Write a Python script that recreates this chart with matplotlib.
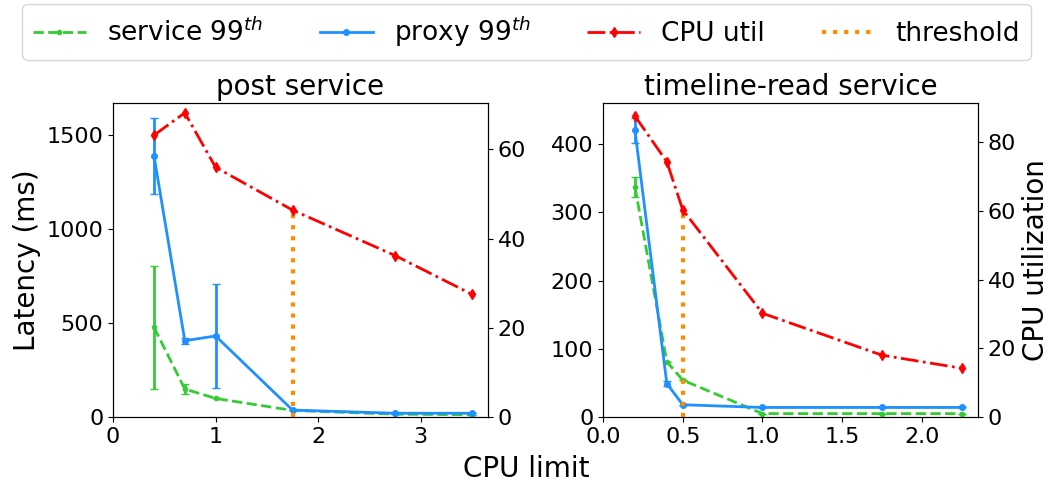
import matplotlib
matplotlib.use('Agg')
import matplotlib.pyplot as plt
from matplotlib.ticker import MultipleLocator

# -----------------------------
# Data
# -----------------------------
post_x = [0.4, 0.7, 1.0, 1.75, 2.75, 3.5]
post_service = [477, 149, 99, 35, 15, 12]
post_service_err = [328, 28, 0, 0, 0, 0]
post_proxy = [1388, 406, 431, 37, 20, 20]
post_proxy_err = [202, 15, 277, 0, 0, 0]
post_cpu = [63.2, 68.2, 56.0, 46.4, 36.2, 27.5]
post_threshold = 1.75

tl_x = [0.2, 0.4, 0.5, 1.0, 1.75, 2.25]
tl_service = [337, 81, 54, 5, 5, 5]
tl_service_err = [14, 0, 0, 0, 0, 0]
tl_proxy = [420, 49, 18, 14, 14, 14]
tl_proxy_err = [18, 4, 0, 0, 0, 0]
tl_cpu = [87.6, 74.3, 60.3, 30.2, 18.0, 14.2]
tl_threshold = 0.5

titles = ['post service', 'timeline-read service']
legend_labels = ['service 99$^{th}$', 'proxy 99$^{th}$', 'CPU util', 'threshold']

plt.rcParams['font.size'] = 16

fig, axes = plt.subplots(1, 2, figsize=(10.53, 4.83), dpi=100)
plt.subplots_adjust(left=0.1073, right=0.9288, top=0.7867, bottom=0.1366, wspace=0.307)

panels = [
    (post_x, post_service, post_service_err, post_proxy, post_proxy_err, post_cpu, post_threshold),
    (tl_x, tl_service, tl_service_err, tl_proxy, tl_proxy_err, tl_cpu, tl_threshold),
]
lat_top = [1670, 460]
cpu_top = [70.4, 91.4]
x_right = [3.655, 2.3525]

handles = []
for i, (ax, (x, svc, svc_err, prx, prx_err, cpu, thr)) in enumerate(zip(axes, panels)):
    h1 = ax.errorbar(x, svc, yerr=svc_err, color='#33cc33', linestyle='--', marker='.',
                     markersize=6, linewidth=2, capsize=3)
    h2 = ax.errorbar(x, prx, yerr=prx_err, color='#1e90ff', linestyle='-', marker='o',
                     markersize=4, linewidth=2, capsize=3)
    ax.set_xlim(0, x_right[i])
    ax.set_ylim(0, lat_top[i])
    ax.set_title(titles[i], fontsize=20)

    ax2 = ax.twinx()
    h3 = ax2.errorbar(x, cpu, yerr=[0.6] * len(cpu), color='red', linestyle='-.', marker='d',
                      markersize=5, linewidth=2, capsize=0)
    thr_cpu = cpu[x.index(thr)]
    h4, = ax2.plot([thr, thr], [0, thr_cpu], color='darkorange', linestyle=':', linewidth=3)
    ax2.set_ylim(0, cpu_top[i])
    if i == 1:
        ax2.set_ylabel('CPU utilization', fontsize=20)
    handles = [h1[0], h2[0], h3[0], h4]

axes[0].set_xticks([0, 1, 2, 3])
axes[0].yaxis.set_major_locator(MultipleLocator(500))
axes[1].set_xticks([0.0, 0.5, 1.0, 1.5, 2.0])
axes[0].set_ylabel('Latency (ms)', fontsize=20)
fig.text(0.5, 0.012, 'CPU limit', ha='center', fontsize=20)

fig.legend(handles, legend_labels, loc='upper center', ncol=4,
           bbox_to_anchor=(0.5, 1.0), borderaxespad=0.15, fontsize=19, columnspacing=2.15)

plt.savefig('out.png')
